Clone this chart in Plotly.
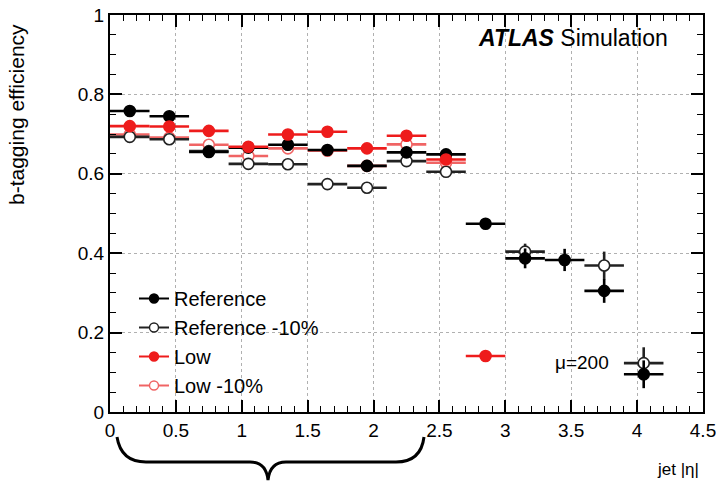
import plotly.graph_objects as go

# ---- data ----
eta_centers = [0.15, 0.45, 0.75, 1.05, 1.35, 1.65, 1.95, 2.25, 2.55, 2.85, 3.15, 3.45, 3.75, 4.05]
bin_halfwidth = [0.15] * 14

ref_eff = [0.758, 0.745, 0.655, 0.666, 0.673, 0.660, 0.620, 0.654, 0.649, 0.474, 0.387, 0.383, 0.305, 0.095]
ref_err = [0.005, 0.005, 0.005, 0.005, 0.005, 0.005, 0.005, 0.005, 0.005, 0.010, 0.025, 0.028, 0.030, 0.035]

ref10_eff = [0.693, 0.687, 0.657, 0.625, 0.624, 0.574, 0.565, 0.632, 0.605, None, 0.404, None, 0.369, 0.123]
ref10_err = [0.005, 0.005, 0.005, 0.005, 0.005, 0.005, 0.005, 0.005, 0.005, 0.0, 0.020, 0.0, 0.035, 0.040]

low_eff = [0.720, 0.719, 0.708, 0.668, 0.699, 0.706, 0.664, 0.696, 0.636, 0.141, None, None, None, None]
low_err = [0.005, 0.005, 0.005, 0.005, 0.005, 0.005, 0.005, 0.005, 0.005, 0.005, 0, 0, 0, 0]

low10_eff = [0.699, 0.691, 0.673, 0.645, 0.664, 0.658, 0.620, 0.674, 0.628, None, None, None, None, None]
low10_err = [0.005] * 9 + [0] * 5

series_names = ["Reference", "Reference -10%", "Low", "Low -10%"]

x_ticks = [0, 0.5, 1, 1.5, 2, 2.5, 3, 3.5, 4, 4.5]
y_ticks = [0, 0.2, 0.4, 0.6, 0.8, 1]

# ---- styles ----
RED = "#ee1c1c"
PINK = "#f06464"
styles = {
    "Reference": dict(color="black", fill="black"),
    "Reference -10%": dict(color="#222222", fill="white"),
    "Low": dict(color=RED, fill=RED),
    "Low -10%": dict(color=PINK, fill="white"),
}

fig = go.Figure()

def add_series(name, y, yerr):
    st = styles[name]
    fig.add_trace(go.Scatter(
        x=eta_centers, y=y, mode="markers", showlegend=False, name=name,
        marker=dict(symbol="circle", size=11, color=st["fill"],
                    line=dict(color=st["color"], width=1.6)),
        error_x=dict(type="data", array=bin_halfwidth, color=st["color"], thickness=2.6, width=0),
        error_y=dict(type="data", array=yerr, color=st["color"], thickness=2.6, width=0),
        cliponaxis=False,
    ))

# draw order
add_series("Low -10%", low10_eff, low10_err)
add_series("Reference -10%", ref10_eff, ref10_err)
add_series("Reference", ref_eff, ref_err)
add_series("Low", low_eff, low_err)

# legend entries
for name in series_names:
    st = styles[name]
    fig.add_trace(go.Scatter(
        x=[None], y=[None], mode="lines+markers", name=name,
        line=dict(color=st["color"], width=2),
        marker=dict(symbol="circle", size=9, color=st["fill"],
                    line=dict(color=st["color"], width=1.4)),
    ))

# plot-area geometry (pixels)
W, H = 716, 483
L, R, T, B = 110, 13, 15, 71
pw, ph = W - L - R, H - T - B

def px(xpix):
    return (xpix - L) / pw

def py(ypix):
    return (H - B - ypix) / ph

axis_common = dict(
    showline=True, linecolor="black", linewidth=2, mirror="ticks",
    ticks="inside", ticklen=12, tickwidth=1.5, tickcolor="black",
    showgrid=True, gridcolor="#b0b0b0", griddash="dot", gridwidth=1,
    zeroline=False, automargin=False, ticklabeloverflow="allow",
    tickfont=dict(family="Liberation Sans, Arial, sans-serif", size=19, color="black"),
)

fig.update_xaxes(range=[0, 4.5], tickvals=x_ticks, ticktext=[f"{v:g}" for v in x_ticks],
                 minor=dict(ticks="inside", ticklen=6, dtick=0.1, tickcolor="black", tickwidth=1, showgrid=False),
                 **axis_common)
fig.update_yaxes(range=[0, 1], tickvals=y_ticks, ticktext=[f"{v:g}" for v in y_ticks],
                 minor=dict(ticks="inside", ticklen=6, dtick=0.05, tickcolor="black", tickwidth=1, showgrid=False),
                 **axis_common)

font = "Liberation Sans, Arial, sans-serif"
annotations = [
    dict(text="b-tagging efficiency", textangle=-90, x=px(16), y=py(115), xref="paper", yref="paper",
         xanchor="center", yanchor="middle", showarrow=False, font=dict(family=font, size=21, color="black")),
    dict(text="jet |η|", x=px(701), y=py(470), xref="paper", yref="paper",
         xanchor="right", yanchor="middle", showarrow=False, font=dict(family=font, size=17, color="black")),
    dict(text="<b><i>ATLAS</i></b> Simulation", x=px(476), y=py(38), xref="paper", yref="paper",
         xanchor="left", yanchor="middle", showarrow=False, font=dict(family=font, size=23, color="black")),
    dict(text="μ=200", x=px(553), y=py(362), xref="paper", yref="paper",
         xanchor="left", yanchor="middle", showarrow=False, font=dict(family=font, size=19, color="black")),
]

# curly brace under the axis (decoration)
pts = [(117, 437), (121, 462), (146, 462), (250, 462), (266, 462), (268, 480),
       (270, 462), (286, 462), (396, 462), (421, 462), (424, 437)]
P = [(px(a), py(b)) for a, b in pts]
path = (f"M {P[0][0]},{P[0][1]} Q {P[1][0]},{P[1][1]} {P[2][0]},{P[2][1]} "
        f"L {P[3][0]},{P[3][1]} Q {P[4][0]},{P[4][1]} {P[5][0]},{P[5][1]} "
        f"Q {P[6][0]},{P[6][1]} {P[7][0]},{P[7][1]} L {P[8][0]},{P[8][1]} "
        f"Q {P[9][0]},{P[9][1]} {P[10][0]},{P[10][1]}")
shapes = [dict(type="path", path=path, xref="paper", yref="paper",
               line=dict(color="black", width=3), layer="above")]

fig.update_layout(
    width=W, height=H,
    margin=dict(l=L, r=R, t=T, b=B, pad=0, autoexpand=False),
    paper_bgcolor="white", plot_bgcolor="white",
    annotations=annotations, shapes=shapes,
    legend=dict(x=px(134), y=py(279), xanchor="left", yanchor="top",
                bgcolor="rgba(0,0,0,0)", font=dict(family=font, size=20, color="black"),
                tracegroupgap=0, itemwidth=30),
)

fig.write_html("out.html")
